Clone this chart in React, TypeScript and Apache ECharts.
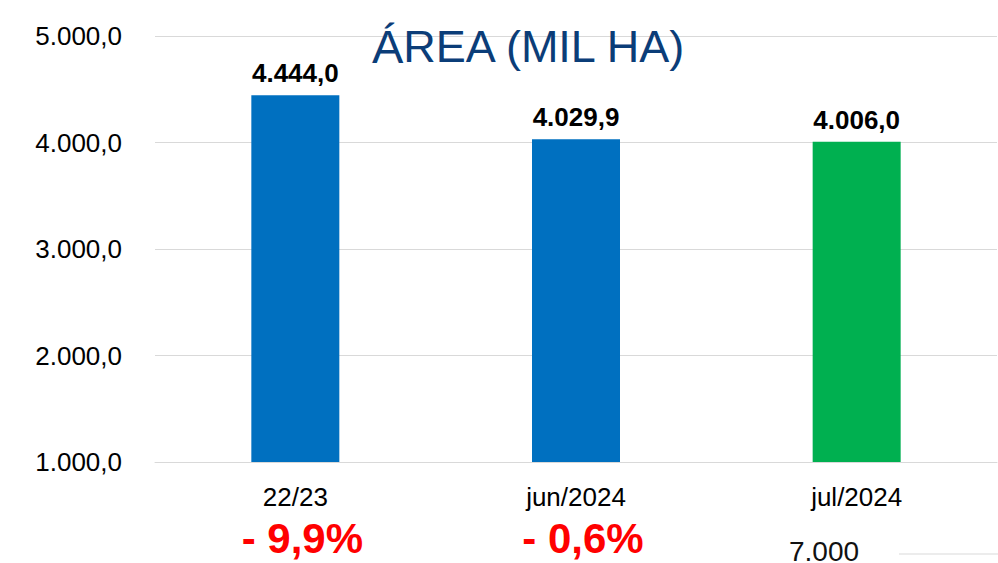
import React, { useEffect, useRef } from "react";
import * as echarts from "echarts";

const categories = ["22/23", "jun/2024", "jul/2024"];
const values = [4444.0, 4029.9, 4006.0];
const barColors = ["#0070C0", "#0070C0", "#00B050"];
const changes = ["- 9,9%", "- 0,6%", ""];
const yTicks = { min: 1000, max: 5000, interval: 1000 };
const titleMain = "Á";
const titleRest = "REA (MIL HA)";
const cutLabel = "7.000";

const fmt = (v: number, d: number) => {
  const s = v.toFixed(d);
  const [i, f] = s.split(".");
  const ii = i.replace(/\B(?=(\d{3})+(?!\d))/g, ".");
  return d > 0 ? ii + "," + f : ii;
};

export default function App() {
  const ref = useRef<HTMLDivElement>(null);
  useEffect(() => {
    if (!ref.current) return;
    const chart = echarts.init(ref.current, undefined, { renderer: "svg" });
    const font = "Arial, 'Liberation Sans', sans-serif";
    chart.setOption({
      animation: false,
      backgroundColor: "#ffffff",
      textStyle: { fontFamily: font },
      title: {
        left: 367,
        top: 18,
        text: "{a|" + titleMain + "}{b|" + titleRest + "}",
        textStyle: {
          fontWeight: "normal",
          rich: {
            a: { fontSize: 47, fontWeight: "normal", color: "#0B3D78", fontFamily: font },
            b: { fontSize: 45, fontWeight: "normal", color: "#0B3D78", fontFamily: font },
          },
        },
      },
      grid: { left: 155, right: 1, top: 36, bottom: 101, containLabel: false },
      xAxis: {
        type: "category",
        data: categories,
        axisTick: { show: false },
        axisLine: { show: true, lineStyle: { color: "#D9D9D9", width: 1 } },
        axisLabel: {
          margin: 22,
          formatter: (v: string, i: number) =>
            changes[i] ? "{a|" + v + "}\n{b|" + changes[i] + "}" : "{a|" + v + "}",
          rich: {
            a: { fontSize: 26, color: "#000", lineHeight: 26, fontFamily: font },
            b: {
              fontSize: 42,
              fontWeight: "bold",
              color: "#FF0000",
              lineHeight: 42,
              padding: [14, 0, 0, 14],
              fontFamily: font,
            },
          },
        },
      },
      yAxis: {
        type: "value",
        min: yTicks.min,
        max: yTicks.max,
        interval: yTicks.interval,
        axisLine: { show: false },
        axisTick: { show: false },
        splitLine: { lineStyle: { color: "#D9D9D9", width: 1 } },
        axisLabel: {
          margin: 33,
          fontSize: 26,
          color: "#000",
          fontFamily: font,
          formatter: (v: number) => fmt(v, 1),
        },
      },
      series: [
        {
          type: "bar",
          barWidth: 88,
          data: values.map((v, i) => ({ value: v, itemStyle: { color: barColors[i] } })),
          label: {
            show: true,
            position: "top",
            distance: 9,
            fontSize: 26,
            fontWeight: "bold",
            color: "#000",
            fontFamily: font,
            formatter: (p: any) => fmt(p.value, 1),
          },
        },
      ],
      graphic: [
        {
          type: "text",
          left: 789,
          top: 537,
          style: { text: cutLabel, fontSize: 28, fill: "#111", fontFamily: font },
        },
        {
          type: "line",
          shape: { x1: 899, y1: 554, x2: 998, y2: 554 },
          style: { stroke: "#D9D9D9", lineWidth: 1 },
        },
      ],
    });
    return () => chart.dispose();
  }, []);
  return <div ref={ref} style={{ width: 998, height: 563, position: "absolute", left: 0, top: 0 }} />;
}
